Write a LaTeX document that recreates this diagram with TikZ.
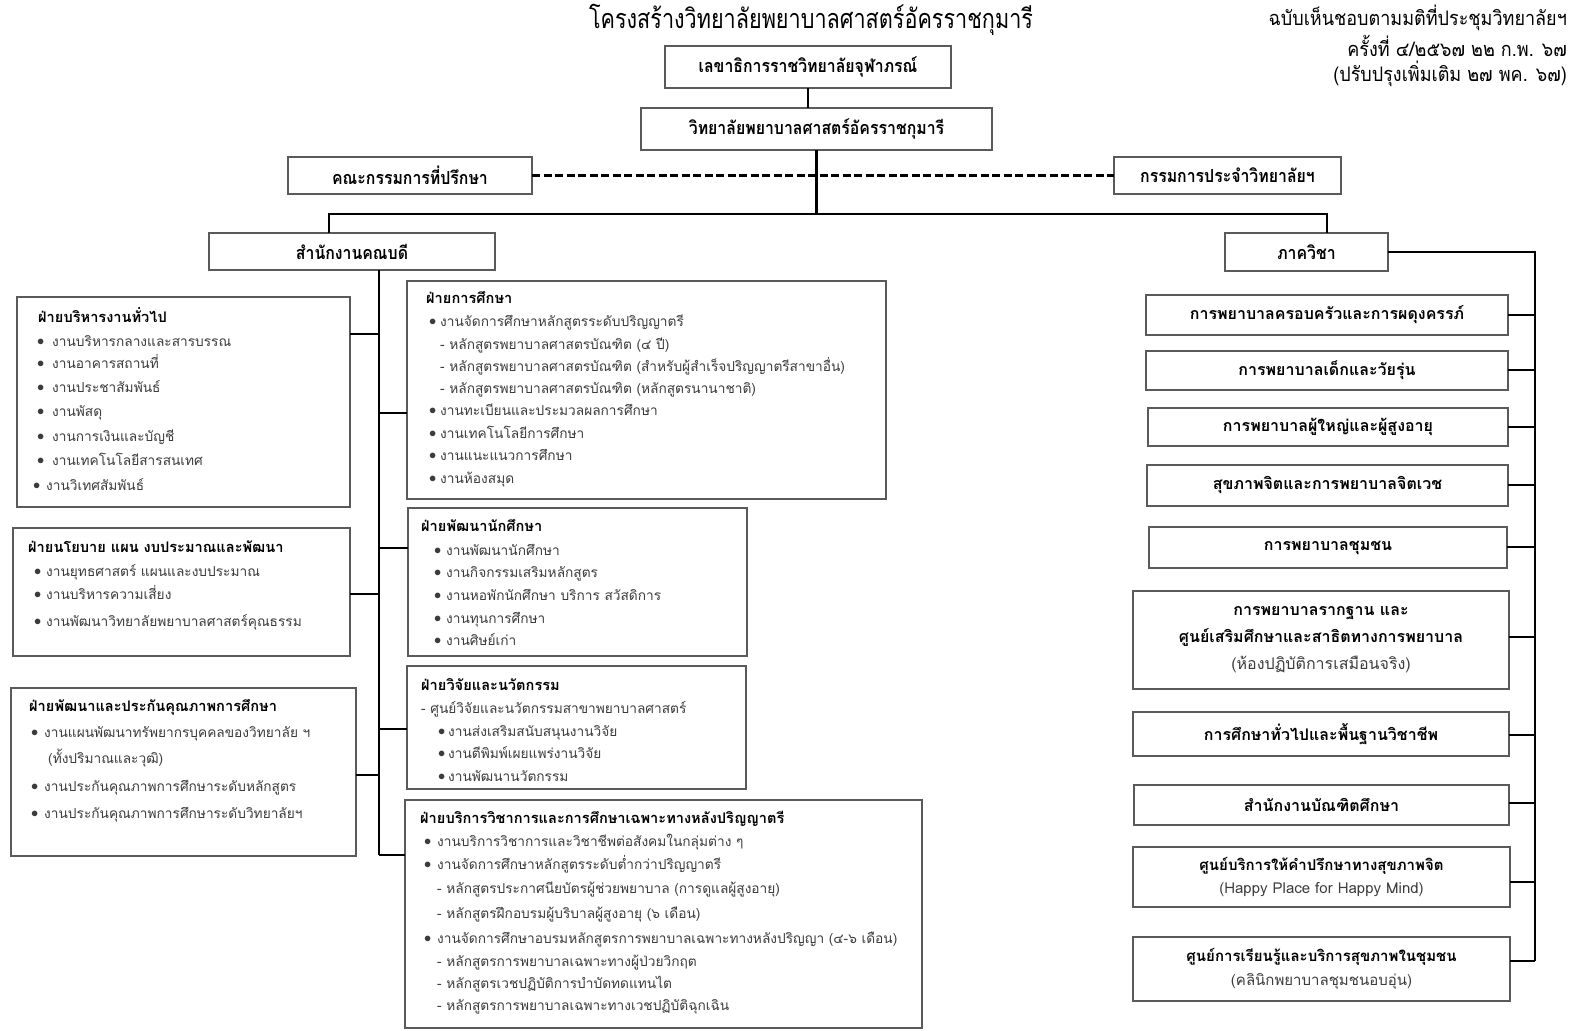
\documentclass[tikz,border=0pt]{standalone}
\usepackage{fontspec}
\usepackage{graphicx}
\setmainfont{Liberation Sans}
\newfontfamily\thai[Script=Thai]{Loma}
\definecolor{boxgray}{HTML}{5A5A5A}
\definecolor{itemgray}{HTML}{3C3C3C}
\newcommand\nar[2][0.88]{\scalebox{#1}[1]{#2}}
\newcommand\itfont{\thai\fontsize{13.7}{16}\selectfont}
\newcommand\hdfont{\thai\fontsize{14.6}{17}\selectfont\bfseries}
\newcommand\bul{\raisebox{1pt}{$\bullet$}}
\newcommand\hdx[4]{\node[hd] (#1) at (#2,#3) {#4};}
\newcommand\itx[4]{\node[it] (#1) at (#2,#3) {#4};}
\newcommand\ibx[5]{\node[it] (#1) at (#2,#3) {\makebox[#4pt][l]{\bul}#5};}
\tikzset{
 box/.style={draw=boxgray, line width=1.3pt, fill=white, inner sep=0pt, outer sep=0pt},
 tbox/.style={box, font=\thai\fontsize{18}{20}\selectfont\bfseries},
 rbox/.style={box, align=center, font=\thai\fontsize{16}{27}\selectfont\bfseries},
 conn/.style={line width=2.6pt, black},
 hd/.style={anchor=base west, inner sep=0pt, yshift=-4pt, font=\hdfont},
 it/.style={anchor=base west, inner sep=0pt, yshift=-4pt, text=itemgray, font=\itfont},
 note/.style={anchor=east, inner sep=0pt, font=\thai\fontsize{20}{22}\selectfont},
}
\begin{document}
\begin{tikzpicture}[x=1pt,y=-1pt]
\path[fill=white] (0,0) rectangle (1573,1030);
\useasboundingbox (0,0) rectangle (1573,1030);

% title and notes
\node[inner sep=0pt, font=\thai\fontsize{27}{30}\selectfont] (title) at (811,20) {\nar[0.8]{โครงสร้างวิทยาลัยพยาบาลศาสตร์อัครราชกุมารี}};
\node[note] (n1) at (1567,18) {\nar[0.9]{ฉบับเห็นชอบตามมติที่ประชุมวิทยาลัยฯ}};
\node[note] (n2) at (1567,46) {\nar[0.9]{ครั้งที่ ๔/๒๕๖๗ ๒๒ ก.พ. ๖๗}};
\node[note] (n3) at (1567,74) {\nar[0.9]{(ปรับปรุงเพิ่มเติม ๒๗ พค. ๖๗)}};

% top boxes
\node[tbox, minimum width=286, minimum height=42] (B1) at (808,67) {\nar{เลขาธิการราชวิทยาลัยจุฬาภรณ์}};
\node[tbox, minimum width=351, minimum height=42] (B2) at (816.5,129) {\nar{วิทยาลัยพยาบาลศาสตร์อัครราชกุมารี}};
\node[tbox, minimum width=244, minimum height=37] (B3) at (410,175.5) {\nar{คณะกรรมการที่ปรึกษา}};
\node[tbox, minimum width=227, minimum height=37] (B4) at (1227.5,175.5) {\nar{กรรมการประจำวิทยาลัยฯ}};
\node[tbox, minimum width=286, minimum height=37] (B5) at (352,251.5) {\nar{สำนักงานคณบดี}};
\node[tbox, minimum width=163, minimum height=38] (B6) at (1306.5,252) {\nar{ภาควิชา}};

% connectors top
\coordinate (busL) at (329,214);
\coordinate (busR) at (1327,214);
\draw[conn] (B1.south) -- (B1.south |- B2.north);
\draw[conn] (B2.south) -- (B2.south |- busL);
\draw[conn, dash pattern=on 8pt off 3.5pt] (B3.east) -- (B4.west);
\draw[conn] (busL |- B5.north) -- (busL) -- (busR) -- (busR |- B6.north);

% left boxes
\node[box, minimum width=333, minimum height=210] (L1) at (183.5,402) {};
\node[box, minimum width=337, minimum height=128] (L2) at (181.5,592) {};
\node[box, minimum width=345, minimum height=168] (L3) at (183.5,772) {};
% middle boxes
\node[box, minimum width=479, minimum height=218] (M1) at (646.5,390) {};
\node[box, minimum width=339, minimum height=148] (M2) at (577.5,582) {};
\node[box, minimum width=339, minimum height=123] (M3) at (576.5,727.5) {};
\node[box, minimum width=517, minimum height=228] (M4) at (663.5,914) {};

% left spine
\coordinate (sL1) at (379,334);
\coordinate (sL2) at (379,594);
\coordinate (sL3) at (379,775);
\coordinate (sM1) at (379,413);
\coordinate (sM2) at (379,548);
\coordinate (sM3) at (379,729);
\coordinate (sM4) at (379,855);
\draw[conn] (B5.south -| sL1) -- (sM4);
\draw[conn] (sL1) -- (sL1 -| L1.east);
\draw[conn] (sL2) -- (sL2 -| L2.east);
\draw[conn] (sL3) -- (sL3 -| L3.east);
\draw[conn] (sM1) -- (sM1 -| M1.west);
\draw[conn] (sM2) -- (sM2 -| M2.west);
\draw[conn] (sM3) -- (sM3 -| M3.west);
\draw[conn] (sM4) -- (sM4 -| M4.west);

% L1
\hdx{l1h}{38}{318}{ฝ่ายบริหารงานทั่วไป}
\ibx{l1a}{37}{342}{15}{งานบริหารกลางและสารบรรณ}
\ibx{l1b}{37}{364}{15}{งานอาคารสถานที่}
\ibx{l1c}{37}{388}{15}{งานประชาสัมพันธ์}
\ibx{l1d}{37}{412}{15}{งานพัสดุ}
\ibx{l1e}{37}{437}{15}{งานการเงินและบัญชี}
\ibx{l1f}{37}{461}{15}{งานเทคโนโลยีสารสนเทศ}
\ibx{l1g}{33}{486}{13}{งานวิเทศสัมพันธ์}
% L2
\hdx{l2h}{28}{548}{ฝ่ายนโยบาย แผน งบประมาณและพัฒนา}
\ibx{l2a}{34}{572}{12}{งานยุทธศาสตร์ แผนและงบประมาณ}
\ibx{l2b}{34}{595}{12}{งานบริหารความเสี่ยง}
\ibx{l2c}{34}{622}{12}{งานพัฒนาวิทยาลัยพยาบาลศาสตร์คุณธรรม}
% L3
\hdx{l3h}{29}{707}{ฝ่ายพัฒนาและประกันคุณภาพการศึกษา}
\ibx{l3a}{31}{733}{13}{งานแผนพัฒนาทรัพยากรบุคคลของวิทยาลัย ฯ}
\itx{l3b}{48}{759}{(ทั้งปริมาณและวุฒิ)}
\ibx{l3c}{31}{787}{13}{งานประกันคุณภาพการศึกษาระดับหลักสูตร}
\ibx{l3d}{31}{814}{13}{งานประกันคุณภาพการศึกษาระดับวิทยาลัยฯ}
% M1
\hdx{m1h}{426}{299}{ฝ่ายการศึกษา}
\ibx{m1a}{429}{322}{11}{งานจัดการศึกษาหลักสูตรระดับปริญญาตรี}
\itx{m1b}{440}{345}{- หลักสูตรพยาบาลศาสตรบัณฑิต (๔ ปี)}
\itx{m1c}{440}{367}{- หลักสูตรพยาบาลศาสตรบัณฑิต (สำหรับผู้สำเร็จปริญญาตรีสาขาอื่น)}
\itx{m1d}{440}{389}{- หลักสูตรพยาบาลศาสตรบัณฑิต (หลักสูตรนานาชาติ)}
\ibx{m1e}{429}{411}{11}{งานทะเบียนและประมวลผลการศึกษา}
\ibx{m1f}{429}{434}{11}{งานเทคโนโลยีการศึกษา}
\ibx{m1g}{429}{456}{11}{งานแนะแนวการศึกษา}
\ibx{m1h2}{429}{479}{11}{งานห้องสมุด}
% M2
\hdx{m2h}{421}{527}{ฝ่ายพัฒนานักศึกษา}
\ibx{m2a}{434}{551}{12}{งานพัฒนานักศึกษา}
\ibx{m2b}{434}{573}{12}{งานกิจกรรมเสริมหลักสูตร}
\ibx{m2c}{434}{596}{12}{งานหอพักนักศึกษา บริการ สวัสดิการ}
\ibx{m2d}{434}{619}{12}{งานทุนการศึกษา}
\ibx{m2e}{434}{641}{12}{งานศิษย์เก่า}
% M3
\hdx{m3h}{421}{686}{ฝ่ายวิจัยและนวัตกรรม}
\itx{m3a}{421}{709}{- ศูนย์วิจัยและนวัตกรรมสาขาพยาบาลศาสตร์}
\ibx{m3b}{438}{732}{10}{งานส่งเสริมสนับสนุนงานวิจัย}
\ibx{m3c}{438}{754}{10}{งานตีพิมพ์เผยแพร่งานวิจัย}
\ibx{m3d}{438}{777}{10}{งานพัฒนานวัตกรรม}
% M4
\hdx{m4h}{420}{819}{ฝ่ายบริการวิชาการและการศึกษาเฉพาะทางหลังปริญญาตรี}
\ibx{m4a}{424}{842}{13}{งานบริการวิชาการและวิชาชีพต่อสังคมในกลุ่มต่าง ๆ}
\ibx{m4b}{424}{865}{13}{งานจัดการศึกษาหลักสูตรระดับต่ำกว่าปริญญาตรี}
\itx{m4c}{437}{889}{- หลักสูตรประกาศนียบัตรผู้ช่วยพยาบาล (การดูแลผู้สูงอายุ)}
\itx{m4d}{437}{914}{- หลักสูตรฝึกอบรมผู้บริบาลผู้สูงอายุ (๖ เดือน)}
\ibx{m4e}{424}{939}{13}{งานจัดการศึกษาอบรมหลักสูตรการพยาบาลเฉพาะทางหลังปริญญา (๔-๖ เดือน)}
\itx{m4f}{437}{962}{- หลักสูตรการพยาบาลเฉพาะทางผู้ป่วยวิกฤต}
\itx{m4g}{437}{984}{- หลักสูตรเวชปฏิบัติการบำบัดทดแทนไต}
\itx{m4i}{437}{1006}{- หลักสูตรการพยาบาลเฉพาะทางเวชปฏิบัติฉุกเฉิน}

% right boxes
\node[rbox, minimum width=362, minimum height=40] (R1) at (1327,315) {การพยาบาลครอบครัวและการผดุงครรภ์};
\node[rbox, minimum width=362, minimum height=39] (R2) at (1327,370.5) {การพยาบาลเด็กและวัยรุ่น};
\node[rbox, minimum width=360, minimum height=38] (R3) at (1328,427) {การพยาบาลผู้ใหญ่และผู้สูงอายุ};
\node[rbox, minimum width=361, minimum height=41] (R4) at (1327.5,485.5) {สุขภาพจิตและการพยาบาลจิตเวช};
\node[rbox, minimum width=358, minimum height=41] (R5) at (1328,547.5) {การพยาบาลชุมชน};
\node[rbox, minimum width=376, minimum height=98] (R6) at (1321,640) {การพยาบาลรากฐาน และ\\ศูนย์เสริมศึกษาและสาธิตทางการพยาบาล\\{\mdseries\color{itemgray}(ห้องปฏิบัติการเสมือนจริง)}};
\node[rbox, minimum width=376, minimum height=44] (R7) at (1321,734) {การศึกษาทั่วไปและพื้นฐานวิชาชีพ};
\node[rbox, minimum width=375, minimum height=40] (R8) at (1321.5,805) {สำนักงานบัณฑิตศึกษา};
\node[rbox, minimum width=377, minimum height=60, font=\thai\fontsize{15}{23}\selectfont\bfseries] (R9) at (1321.5,877) {ศูนย์บริการให้คำปรึกษาทางสุขภาพจิต\\{\mdseries\color{itemgray}(Happy Place for Happy Mind)}};
\node[rbox, minimum width=377, minimum height=64, font=\thai\fontsize{15}{24}\selectfont\bfseries] (R10) at (1321.5,969) {ศูนย์การเรียนรู้และบริการสุขภาพในชุมชน\\{\mdseries\color{itemgray}(คลินิกพยาบาลชุมชนอบอุ่น)}};

% right spine
\coordinate (sR1) at (1535,315);
\coordinate (sR2) at (1535,370);
\coordinate (sR3) at (1535,427);
\coordinate (sR4) at (1535,485);
\coordinate (sR5) at (1535,547);
\coordinate (sR6) at (1535,637);
\coordinate (sR7) at (1535,735);
\coordinate (sR8) at (1535,803);
\coordinate (sR9) at (1535,882);
\coordinate (sR10) at (1535,961);
\draw[conn] (B6.east) -- (B6.east -| sR1) -- (sR10);
\draw[conn] (sR1) -- (sR1 -| R1.east);
\draw[conn] (sR2) -- (sR2 -| R2.east);
\draw[conn] (sR3) -- (sR3 -| R3.east);
\draw[conn] (sR4) -- (sR4 -| R4.east);
\draw[conn] (sR5) -- (sR5 -| R5.east);
\draw[conn] (sR6) -- (sR6 -| R6.east);
\draw[conn] (sR7) -- (sR7 -| R7.east);
\draw[conn] (sR8) -- (sR8 -| R8.east);
\draw[conn] (sR9) -- (sR9 -| R9.east);
\draw[conn] (sR10) -- (sR10 -| R10.east);
\end{tikzpicture}
\end{document}
